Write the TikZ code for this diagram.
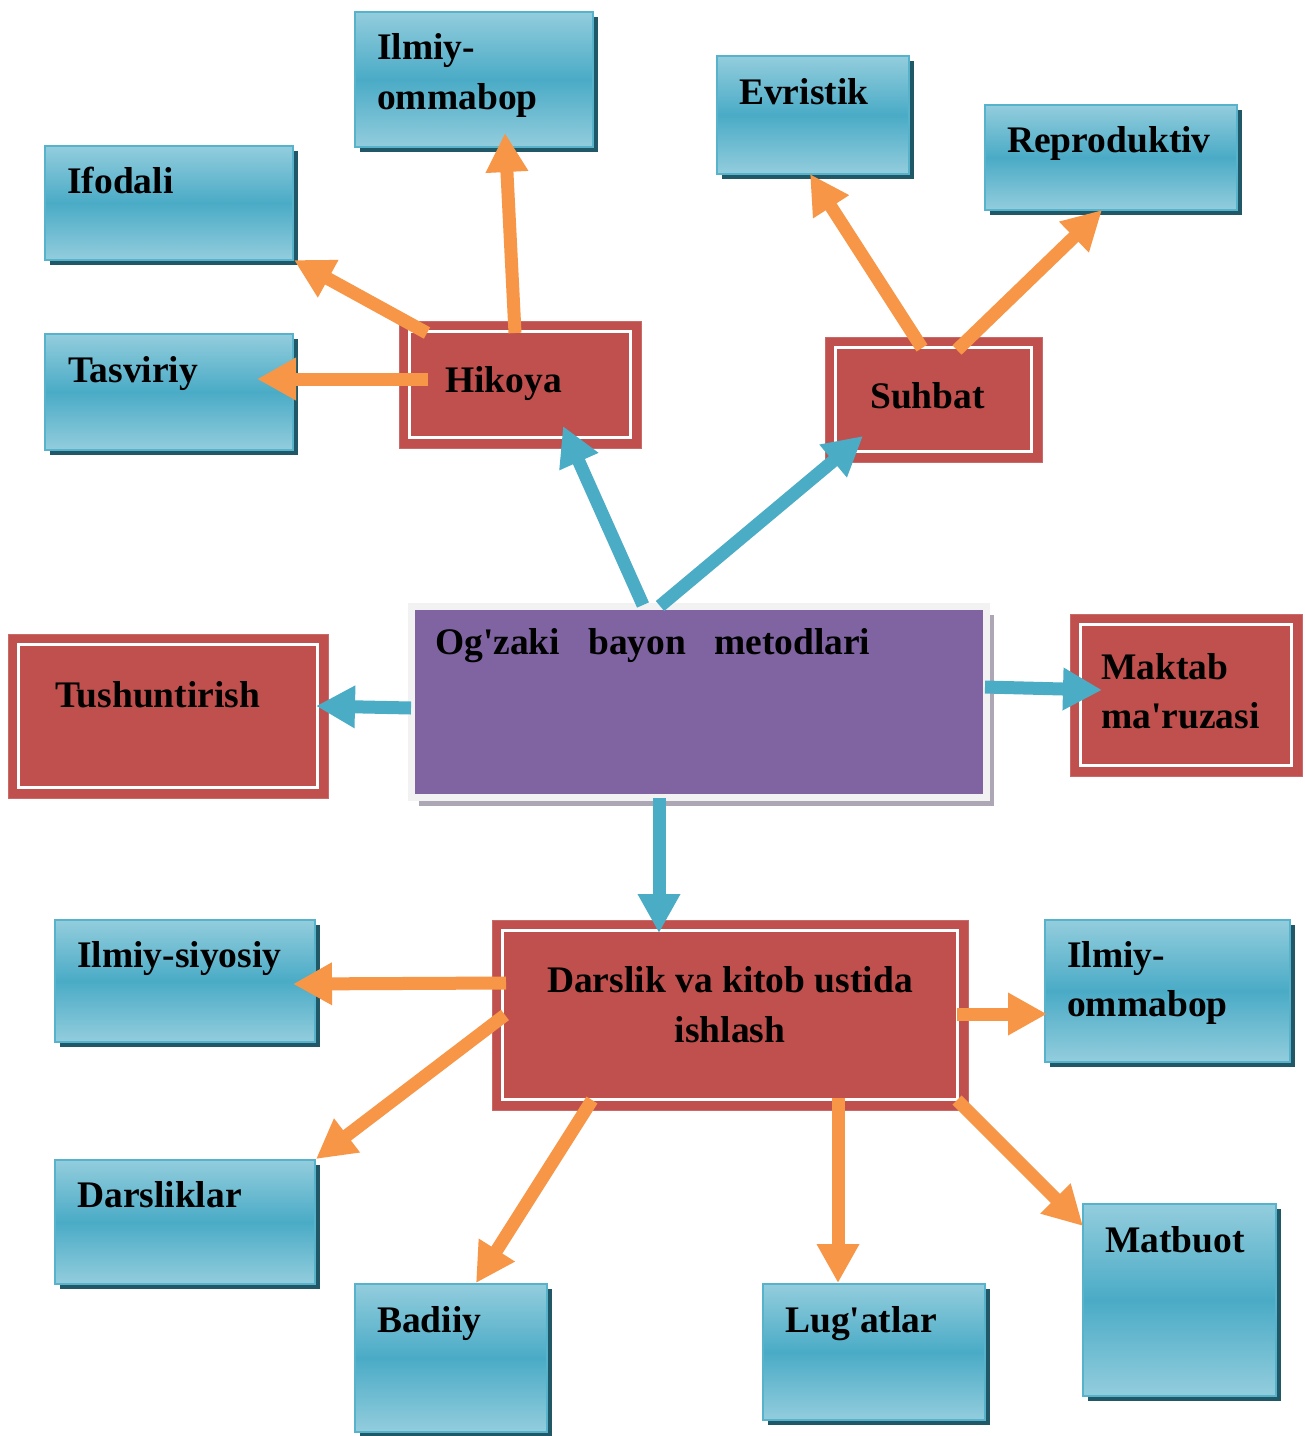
\documentclass[tikz,border=0pt]{standalone}
\usepackage{fontspec}
\setmainfont{Liberation Serif}
\usetikzlibrary{arrows.meta,shadows}
\definecolor{org}{HTML}{F79646}
\definecolor{barr}{HTML}{4BACC6}
\definecolor{redc}{HTML}{C0504D}
\definecolor{purp}{HTML}{8064A2}
\definecolor{gframe}{HTML}{F2F2F2}
\definecolor{pshad}{HTML}{ACA6B5}
\definecolor{blight}{HTML}{93CDDD}
\definecolor{bmid}{HTML}{4AABC6}
\definecolor{bbord}{HTML}{56B3CB}
\definecolor{bshad}{HTML}{205867}
\newcommand{\apos}{\textquotesingle}
\tikzset{
  bluebox/.style={rectangle, draw=bbord, line width=2.5pt,
    top color=blight, bottom color=blight, middle color=bmid,
    drop shadow={shadow xshift=5pt, shadow yshift=-5pt, fill=bshad, opacity=1},
    inner sep=0pt},
  redbox/.style={rectangle, fill=redc, draw=redc!85!white, line width=1pt, inner sep=0pt,
    path picture={\draw[white, line width=3.5pt]
      ([shift={(10.5pt,-10.5pt)}]path picture bounding box.north west) rectangle
      ([shift={(-10.5pt,10.5pt)}]path picture bounding box.south east);}},
  purpbox/.style={rectangle, fill=purp, draw=gframe, line width=7pt, inner sep=0pt,
    drop shadow={shadow xshift=8pt, shadow yshift=-8pt, fill=pshad, opacity=1}},
  txt/.style={anchor=base west, inner sep=0pt, font=\fontsize{37.5}{45}\selectfont\bfseries},
  ctxt/.style={txt, anchor=base},
  oarr/.style={draw=org, line width=13pt, -{Triangle[width=40pt,length=39pt]}},
  barrow/.style={draw=barr, line width=13pt, -{Triangle[width=40pt,length=39pt]}}
}
\begin{document}
\begin{tikzpicture}[x=1pt,y=-1pt]
\useasboundingbox[fill=white] (0,0) rectangle (1305,1436);

% blue boxes
\node[bluebox, minimum width=238, minimum height=135] (iom1) at (474,79.5) {};
\node[bluebox, minimum width=248, minimum height=114] (ifo) at (169,203) {};
\node[bluebox, minimum width=248, minimum height=116] (tas) at (169,392) {};
\node[bluebox, minimum width=192, minimum height=118] (evr) at (813,115) {};
\node[bluebox, minimum width=252, minimum height=105] (rep) at (1111,157.5) {};
\node[bluebox, minimum width=260, minimum height=122] (isi) at (185,981) {};
\node[bluebox, minimum width=245, minimum height=142] (iom2) at (1167.5,991) {};
\node[bluebox, minimum width=260, minimum height=124] (dsl) at (185,1222) {};
\node[bluebox, minimum width=192, minimum height=148] (bad) at (451,1358) {};
\node[bluebox, minimum width=222, minimum height=136] (lug) at (874,1352) {};
\node[bluebox, minimum width=193, minimum height=192] (mat) at (1179.5,1300) {};

% red boxes
\node[redbox, minimum width=242, minimum height=127] (hik) at (520,384.5) {};
\node[redbox, minimum width=217, minimum height=125] (suh) at (933.5,399.5) {};
\node[redbox, minimum width=320, minimum height=164] (tus) at (168,716) {};
\node[redbox, minimum width=232, minimum height=162] (mak) at (1186,695) {};
\node[redbox, minimum width=476, minimum height=190] (drs) at (730,1015) {};

% central box
\node[purpbox, minimum width=575, minimum height=191] (og) at (698.5,702) {};

% texts
\node[txt] (t-iom1a) at (377,59) {Ilmiy-};
\node[txt] (t-iom1b) at (377,109) {ommabop};
\node[txt] (t-ifo) at (67,193) {Ifodali};
\node[txt] (t-tas) at (68,382) {Tasviriy};
\node[txt] (t-evr) at (739,104) {Evristik};
\node[txt] (t-rep) at (1007,152) {Reproduktiv};
\node[txt] (t-hik) at (445,392) {Hikoya};
\node[txt] (t-suh) at (870,408) {Suhbat};
\node[txt] (t-og) at (435,654) {Og\apos zaki\hspace{28pt}bayon\hspace{28pt}metodlari};
\node[txt] (t-tus) at (55,707) {Tushuntirish};
\node[txt] (t-maka) at (1101,679) {Maktab};
\node[txt] (t-makb) at (1101,728) {ma\apos ruzasi};
\node[ctxt] (t-drsa) at (730,992) {Darslik va kitob ustida};
\node[ctxt] (t-drsb) at (730,1042) {ishlash};
\node[txt] (t-isi) at (77,967) {Ilmiy-siyosiy};
\node[txt] (t-iom2a) at (1067,967) {Ilmiy-};
\node[txt] (t-iom2b) at (1067,1016) {ommabop};
\node[txt] (t-dsl) at (77,1207) {Darsliklar};
\node[txt] (t-bad) at (377,1332) {Badiiy};
\node[txt] (t-lug) at (785,1332) {Lug\apos atlar};
\node[txt] (t-mat) at (1105,1252) {Matbuot};

% orange arrows
\draw[oarr] ([shift={(-5,-51.5)}]hik.center) -- ([shift={(31,53.5)}]iom1.center);
\draw[oarr] ([shift={(-93,-51.5)}]hik.center) -- ([shift={(125,57)}]ifo.center);
\draw[oarr] ([shift={(-92,-5.5)}]hik.center) -- ([shift={(88,-13)}]tas.center);
\draw[oarr] ([shift={(-11.5,-51.5)}]suh.center) -- ([shift={(-3,59)}]evr.center);
\draw[oarr] ([shift={(23.5,-49.5)}]suh.center) -- ([shift={(-9,52.5)}]rep.center);
\draw[oarr] ([shift={(-224,-32)}]drs.center) -- ([shift={(108,3)}]isi.center);
\draw[oarr] ([shift={(-225,0)}]drs.center) -- ([shift={(131,-63)}]dsl.center);
\draw[oarr] ([shift={(-138,85)}]drs.center) -- ([shift={(25,-75)}]bad.center);
\draw[oarr] ([shift={(108,83)}]drs.center) -- ([shift={(-36,-69)}]lug.center);
\draw[oarr] ([shift={(227,85)}]drs.center) -- ([shift={(-96.5,-74)}]mat.center);
\draw[oarr] ([shift={(227,-1)}]drs.center) -- ([shift={(-120.5,23)}]iom2.center);

% blue arrows
\draw[barrow] ([shift={(-55.5,-97)}]og.center) -- ([shift={(43,41.5)}]hik.center);
\draw[barrow] ([shift={(-38.5,-96)}]og.center) -- ([shift={(-70.5,36.5)}]suh.center);
\draw[barrow] ([shift={(-287.5,6)}]og.center) -- ([shift={(148,-10)}]tus.center);
\draw[barrow] ([shift={(286.5,-15)}]og.center) -- ([shift={(-84,-5)}]mak.center);
\draw[barrow] ([shift={(-39.5,96)}]og.center) -- ([shift={(-71,-82)}]drs.center);
\end{tikzpicture}
\end{document}
